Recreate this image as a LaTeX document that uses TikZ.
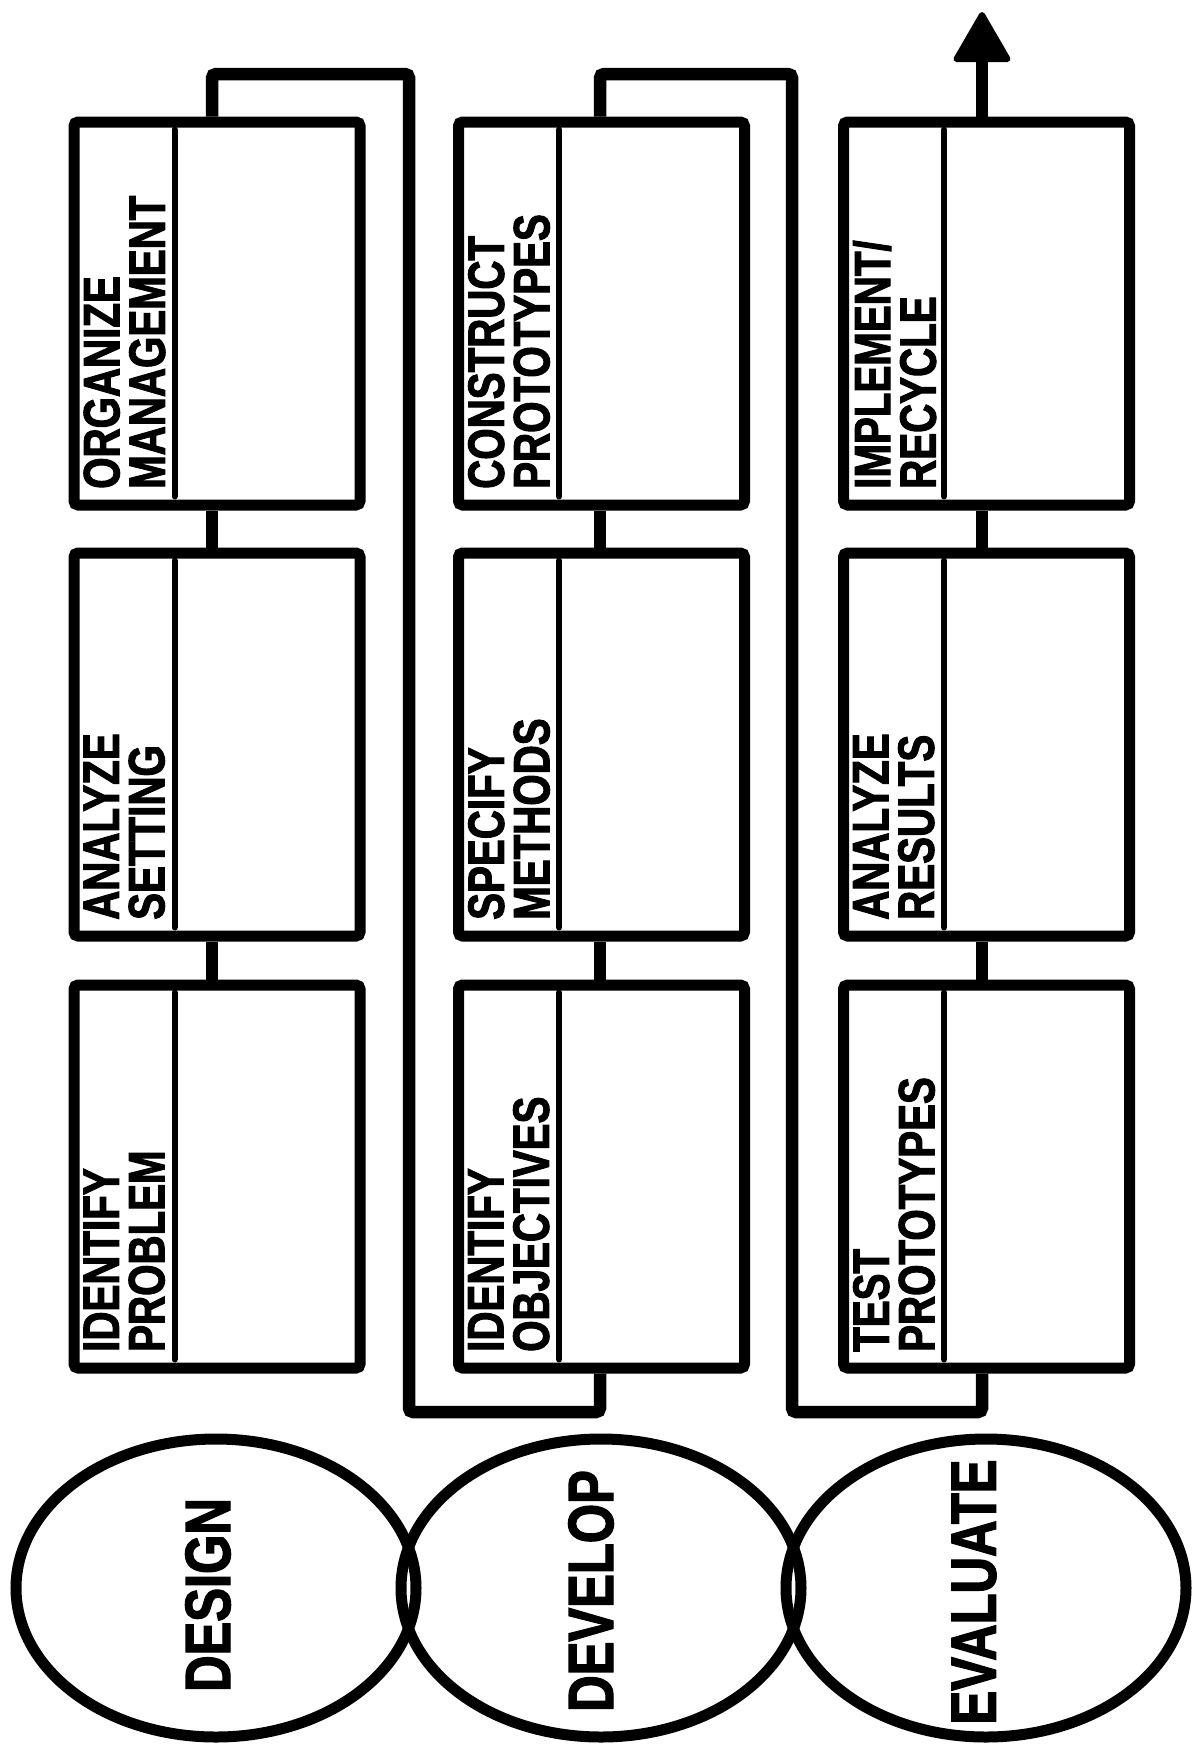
\documentclass[tikz,border=0pt]{standalone}
\usepackage{fontspec}
\newfontfamily\labfont{Liberation Sans}[FakeStretch=0.79,BoldFeatures={FakeBold=2}]
\usetikzlibrary{shapes.geometric}
\begin{document}
\begin{tikzpicture}[x=1pt,y=-1pt,
  stagebox/.style={rectangle, draw, line width=11pt, rounded corners=4pt,
    minimum width=286pt, minimum height=383pt, inner sep=0pt},
  conn/.style={line width=12.5pt, rounded corners=4pt},
  divider/.style={line width=6pt, line cap=round},
  lab/.style={font=\labfont\bfseries\fontsize{51}{45.5}\selectfont, align=left,
    inner sep=0pt, rotate=90, anchor=north west},
  phase/.style={ellipse, draw, line width=11pt, minimum width=400pt,
    minimum height=298pt, inner sep=0pt},
  phaselab/.style={font=\labfont\bfseries\fontsize{64}{70}\selectfont,
    inner sep=0pt, rotate=90}
]
\fill[white] (0,0) rectangle (1204,1754);
\useasboundingbox (0,0) rectangle (1204,1754);

% boxes: a = design column, b = develop column, c = evaluate column; 1 = top row
\node[stagebox] (a1) at (217,313.5) {};
\node[stagebox] (a2) at (217,744.5) {};
\node[stagebox] (a3) at (217,1176.5) {};
\node[stagebox] (b1) at (601.5,313.5) {};
\node[stagebox] (b2) at (601.5,744.5) {};
\node[stagebox] (b3) at (601.5,1176.5) {};
\node[stagebox] (c1) at (986.5,313.5) {};
\node[stagebox] (c2) at (986.5,744.5) {};
\node[stagebox] (c3) at (986.5,1176.5) {};

% labels and underline dividers
\foreach \b/\t in {a1/{ORGANIZE\\MANAGEMENT}, a2/{ANALYZE\\SETTING}, a3/{IDENTIFY\\PROBLEM},
                   b1/{CONSTRUCT\\PROTOTYPES}, b2/{SPECIFY\\METHODS}, b3/{IDENTIFY\\OBJECTIVES},
                   c1/{IMPLEMENT/\\RECYCLE}, c2/{ANALYZE\\RESULTS}, c3/{TEST\\PROTOTYPES}}{
  \node[lab] (\b-t) at ([xshift=15pt,yshift=21.5pt]\b.south west) {\t};
  \draw[divider] ([xshift=106pt,yshift=-13pt]\b.north west) -- ([xshift=106pt,yshift=14pt]\b.south west);
}

% connector columns
\coordinate (x1) at (212,0);
\coordinate (x2) at (600,0);
\coordinate (x3) at (982,0);

\draw[conn] (a3.north -| x1) -- (a2.south -| x1);
\draw[conn] (a2.north -| x1) -- (a1.south -| x1);
\draw[conn] (b3.north -| x2) -- (b2.south -| x2);
\draw[conn] (b2.north -| x2) -- (b1.south -| x2);
\draw[conn] (c3.north -| x3) -- (c2.south -| x3);
\draw[conn] (c2.north -| x3) -- (c1.south -| x3);

% loops
\coordinate (l1a) at (212,74);
\coordinate (l1b) at (409,74);
\coordinate (l1c) at (409,1412);
\coordinate (l1d) at (600,1412);
\draw[conn] (a1.north -| x1) -- (l1a) -- (l1b) -- (l1c) -- (l1d) -- (b3.south -| x2);
\coordinate (l2a) at (600,74);
\coordinate (l2b) at (792,74);
\coordinate (l2c) at (792,1412);
\coordinate (l2d) at (982,1412);
\draw[conn] (b1.north -| x2) -- (l2a) -- (l2b) -- (l2c) -- (l2d) -- (c3.south -| x3);

% exit arrow
\coordinate (head) at (982,60);
\draw[conn] (c1.north -| x3) -- (head);
\filldraw[line width=6pt, line join=round] (956.5,59) -- (1007.5,59) -- (982,15) -- cycle;

% phase ellipses
\node[phase] (e1) at (216,1588) {};
\node[phase] (e2) at (601,1588) {};
\node[phase] (e3) at (986,1588) {};
\node[phaselab] (t1) at (208,1595) {DESIGN};
\node[phaselab] (t2) at (591,1591) {DEVELOP};
\node[phaselab] (t3) at (974,1592) {EVALUATE};
\end{tikzpicture}
\end{document}
